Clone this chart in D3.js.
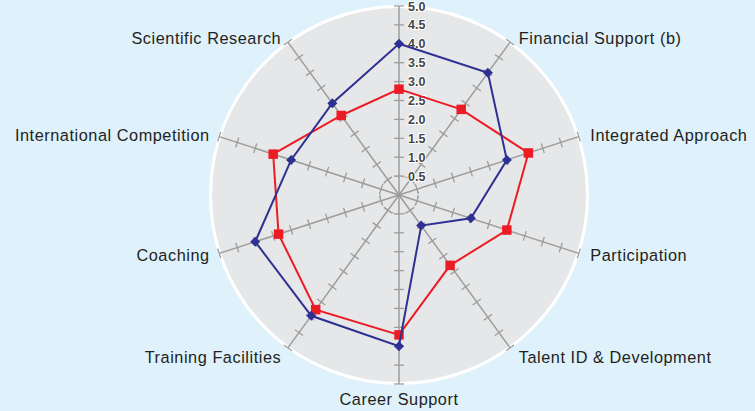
<!DOCTYPE html>
<html>
<head>
<meta charset="utf-8">
<script src="https://cdn.jsdelivr.net/npm/d3@7"></script>
<style>
  html, body { margin: 0; padding: 0; background: #dff1fb; }
  svg { display: block; }
  text { font-family: "Liberation Sans", Arial, sans-serif; }
</style>
</head>
<body>
<div id="root"></div>
<script>
// axes clockwise from the top; the top one carries no label
const axes = ["", "Financial Support (b)", "Integrated Approach", "Participation",
  "Talent ID & Development", "Career Support", "Training Facilities", "Coaching",
  "International Competition", "Scientific Research"];
const blueValues = [4.0, 4.0, 3.0, 2.0, 1.0, 4.0, 3.95, 4.0, 3.0, 3.0];
const redValues = [2.8, 2.8, 3.6, 3.0, 2.3, 3.7, 3.75, 3.35, 3.5, 2.6];
const tickValues = [0.5, 1, 1.5, 2, 2.5, 3, 3.5, 4, 4.5, 5];

const w = 755, h = 411;
const cx = 399, cy = 195;
const R = 189;

const svg = d3.select("#root").append("svg")
  .attr("width", w)
  .attr("height", h);

const g = svg.append("g")
  .attr("transform", "translate(" + cx + "," + cy + ")");

const r = d3.scaleLinear().domain([0, 5]).range([0, R]);
const angle = d3.scaleLinear().domain([0, axes.length]).range([0, 2 * Math.PI]);

function pt(i, v) {
  const a = angle(i);
  return [r(v) * Math.sin(a), -r(v) * Math.cos(a)];
}

// disk
g.append("circle")
  .attr("r", 188.5)
  .attr("fill", "#e6e7e8")
  .attr("stroke", "#fff")
  .attr("stroke-width", 3);

// inner dashed ring
g.append("circle")
  .attr("r", r(0.5))
  .attr("fill", "none")
  .attr("stroke", "#a3a3a3")
  .attr("stroke-width", 1)
  .attr("stroke-dasharray", "4,3");

// axes with cross ticks
axes.forEach(function(name, i) {
  const deg = angle(i) * 180 / Math.PI;
  const ax = g.append("g").attr("transform", "rotate(" + deg + ")");
  ax.append("line")
    .attr("x1", 0).attr("y1", 0)
    .attr("x2", 0).attr("y2", -r(5))
    .attr("stroke", "#9d9d9d")
    .attr("stroke-width", 1.5);
  ax.selectAll(".tick")
    .data(tickValues)
    .enter().append("line")
    .attr("x1", -5).attr("x2", 5)
    .attr("y1", function(d) { return -r(d); })
    .attr("y2", function(d) { return -r(d); })
    .attr("stroke", "#9d9d9d")
    .attr("stroke-width", 1.3);
});

// value labels on the top axis
g.selectAll(".tlabel")
  .data(tickValues)
  .enter().append("text")
  .attr("x", 9)
  .attr("y", function(d) { return -r(d); })
  .attr("dy", "0.36em")
  .attr("font-size", 12.5)
  .attr("font-weight", "bold")
  .attr("fill", "#444")
  .attr("stroke", "#fff")
  .attr("stroke-width", 2)
  .attr("paint-order", "stroke")
  .text(function(d) { return d3.format(".1f")(d); });

const line = d3.line().curve(d3.curveLinearClosed);

function series(values, color, size, rot) {
  const pts = values.map(function(v, i) { return pt(i, v); });
  g.append("path")
    .attr("d", line(pts))
    .attr("fill", "none")
    .attr("stroke", color)
    .attr("stroke-width", 2);
  g.selectAll(null)
    .data(pts)
    .enter().append("path")
    .attr("transform", function(d) {
      return "translate(" + d[0] + "," + d[1] + ") rotate(" + rot + ")";
    })
    .attr("d", d3.symbol().type(d3.symbolSquare).size(size))
    .attr("fill", color);
}

series(redValues, "#ed1c24", 90, 0);
series(blueValues, "#2e3192", 50, 45);

// axis names
axes.forEach(function(name, i) {
  if (!name) return;
  const a = angle(i);
  const s = Math.sin(a), c = Math.cos(a);
  let yR = c > -0.5 ? 194 : 200;
  if (c < -0.99) yR = 204;
  let anchor = "middle";
  if (s > 0.1) anchor = "start";
  if (s < -0.1) anchor = "end";
  g.append("text")
    .attr("x", (R + 8) * s + (s > 0.5 ? 4 : 0) - (s < -0.5 ? 2 : 0))
    .attr("y", -yR * c)
    .attr("dy", "0.35em")
    .attr("text-anchor", anchor)
    .attr("font-size", 16.3)
    .attr("letter-spacing", 0.55)
    .attr("fill", "#231f20")
    .text(name);
});
</script>
</body>
</html>
